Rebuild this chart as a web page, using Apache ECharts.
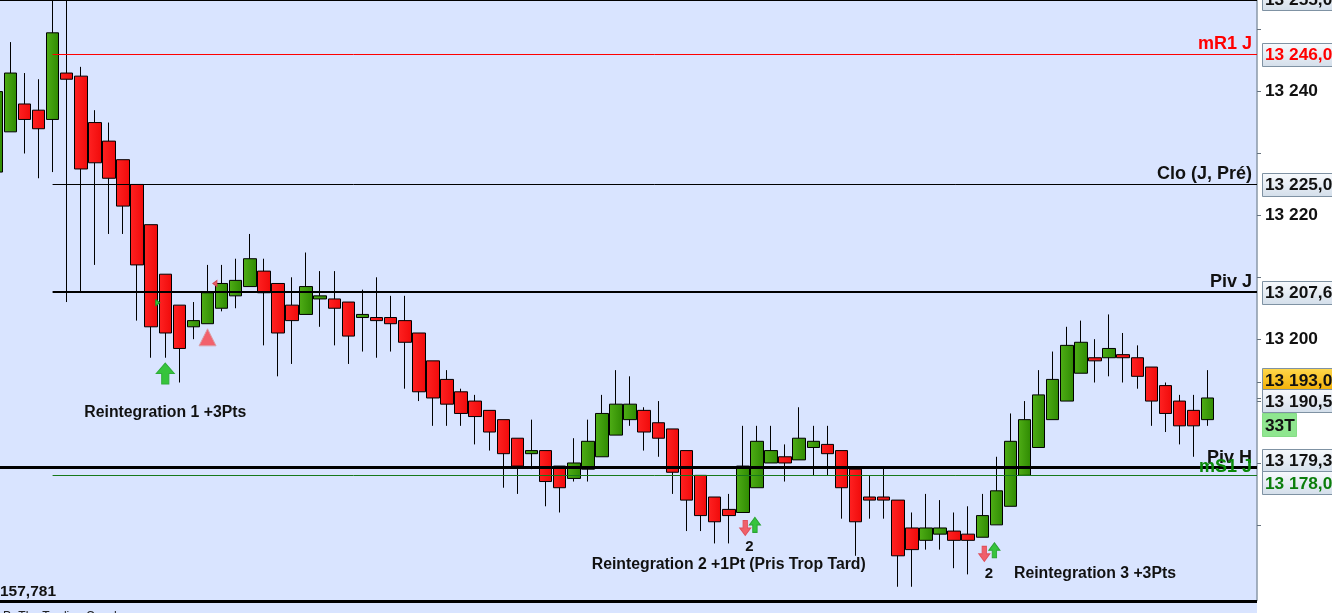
<!DOCTYPE html>
<html><head><meta charset="utf-8">
<script src="https://cdn.jsdelivr.net/npm/echarts@6/dist/echarts.min.js"></script>
<style>html,body{margin:0;padding:0;background:#fff;overflow:hidden}#c{width:1332px;height:613px}</style>
</head><body><div id="c"></div>
<script>
var opens=[13227,13233.5,13238,13237,13235.5,13243,13242.5,13235,13232,13229,
13225,13218.5,13210.5,13205.5,13202,13202.5,13205,13207,13208.5,13211,
13209,13205.5,13204,13206.5,13206.5,13206,13203.5,13203.5,13203.5,13203,
13201,13196.5,13193.5,13191.5,13190,13188.5,13187,13184,13181.5,13182,
13179.5,13177.5,13179,13181,13184.5,13187,13188.5,13186.5,13185.5,13182,
13178,13174.5,13172.5,13172,13176,13180,13181,13180.5,13182.5,13183,
13182,13179,13174.5,13174.5,13174,13169.5,13167.5,13168.5,13169,13168.5,
13168,13170,13173,13178,13182.5,13187,13190,13194.5,13197,13197,
13197.5,13197,13195.5,13192.5,13190,13188.5,13187];
var closes=[13240,13243,13235.5,13234,13249.5,13242,13227.5,13228.5,13226,13221.5,
13212,13202,13201,13198.5,13203,13207.5,13209,13209.5,13213,13207.5,
13201,13203,13208.5,13207,13205,13200.5,13204,13203,13202.5,13199.5,
13191.5,13190.5,13189.5,13188,13187.5,13185,13181.5,13179.5,13182,13177,
13176,13180,13183.5,13188,13189.5,13189.5,13185,13184,13178.5,13174,
13171.5,13170.5,13171.5,13179.5,13183.5,13182,13180,13184,13183.5,13181.5,
13176,13170.5,13174,13174,13165,13166,13169.5,13169.5,13167.5,13167.5,
13171.5,13175.5,13183.5,13187,13191,13193.5,13199,13199.5,13196.5,13198.5,
13197,13194,13190,13188,13186,13186,13190.5];
var lows=[13227,13233.5,13230,13226,13227,13206,13207.5,13212,13217,13217,
13203,13197,13197,13193,13200,13202.5,13204.5,13205,13208.5,13199,
13194,13196,13204,13202,13199,13196,13198,13197,13198,13192,
13190,13186,13186,13186,13183,13182,13176,13175,13179,13173,
13172,13177,13177,13181,13184.5,13186,13182,13181,13175,13169,
13169,13167,13167,13172,13176,13180,13177,13180.5,13178,13178,
13171,13165,13171,13171,13160,13160,13166,13166,13163,13162,
13168,13170,13173,13178,13182.5,13187,13190,13194.5,13193,13194,
13193,13192,13186,13185,13183,13181,13186];
var highs=[13240,13248,13243,13242,13257,13258,13244,13237,13235,13229,
13225,13218.5,13210.5,13205.5,13206,13212,13212,13213,13217,13213,
13209,13210,13214,13211,13211,13206,13208,13210,13207,13207,
13201,13196.5,13195,13192,13191,13188.5,13187,13184,13187,13182,
13179.5,13184,13187,13191,13195,13194,13189,13190,13185.5,13182,
13178,13174.5,13175,13186,13186,13186,13183,13189,13186,13186,
13182,13179,13178,13179.5,13174,13172,13175,13174,13172,13173,
13175,13181,13188,13190,13195,13198,13202,13203,13200,13204,
13201,13199,13195.5,13193,13191,13191,13195];
var barCount=90;
var categories=[];for(var n=0;n<barCount;n++)categories.push(String(n));

var levelValues=[13246,13225,13207.6,13179.3,13178];
var levelNames=['mR1 J','Clo (J, Pré)','Piv J','Piv H','mS1 J'];
var levelStartBars=[4,4,4,0,4];

var boxValues=[13255,13246,13225,13207.6,13193,13190.5,13179.3,13178];
var boxTexts=['13 255,0','13 246,0','13 225,0','13 207,6','13 193,0','13 190,5','13 179,3','13 178,0'];

var axisLabelValues=[13240,13220,13200];
var axisLabelTexts=['13 240','13 220','13 200'];
var axisTickValues=[13250,13240,13230,13220,13210,13200,13193,13190.5,13190,13180,13170];

var bigUpBars=[12];
var bigUpPrices=[13194.45];
var upArrowBars=[54,71];
var upArrowPrices=[13170,13165.9];
var downArrowBars=[53,70];
var downArrowPrices=[13169.5,13165.3];
var triangleBars=[15];
var trianglePrices=[13200.3];
var tinyGreenBars=[11];
var tinyGreenPrices=[13205.9];
var tinyRedBars=[15];
var tinyRedPrices=[13209];

var noteBars=[12,52,78,53,70];
var notePrices=[13188.4,13163.85,13162.4,13166.7,13162.4];
var noteTexts=['Reintegration 1 +3Pts','Reintegration 2 +1Pt (Pris Trop Tard)','Reintegration 3 +3Pts','2','2'];
var lowestText='157,781';
var signalText='33T';
var footerText='Pr The Trading Coach';

var FONT='"Liberation Sans",Arial,sans-serif';
var levelStyle=[{c:'#ff0000',w:1,t:'#ff0000',dy:-10},{c:'#000000',w:1,t:'#111111',dy:-10},{c:'#000000',w:2,t:'#111111',dy:-9.5},{c:'#000000',w:3,t:'#111111',dy:-9.5},{c:'#17791a',w:1,t:'#0b8a0b',dy:-8.5}];
var boxStyle=[{},{t:'#ff0000'},{},{},{gold:1,dy:-3},{dy:3},{dy:-7},{t:'#0b7d0b',dy:7.5}];

function grad(a,b,h){return new echarts.graphic.LinearGradient(0,0,h?1:0,h?0:1,[{offset:0,color:a},{offset:1,color:b}]);}
var candles=opens.map(function(o,i){return [o,closes[i],lows[i],highs[i]];});

function scatterSeries(bars,prices,path,size,fill,stroke,offsets){
  return {type:'scatter',z:6,clip:false,symbol:path,symbolSize:size,silent:true,
    itemStyle:{color:fill,borderColor:stroke,borderWidth:1,opacity:1},
    data:bars.map(function(b,i){return {value:[b,prices[i]],symbolOffset:[offsets[i],0]};})};
}
var UP='path://M50 0L100 50L70 50L70 100L30 100L30 50L0 50Z';
var DOWN='path://M30 0L70 0L70 50L100 50L50 100L0 50L30 50Z';
var TRI='path://M50 0L100 100L0 100Z';
var RIGHT='path://M0 0L100 50L0 100Z';
var LEFT='path://M100 0L0 50L100 100Z';

var chart=echarts.init(document.getElementById('c'),null,{renderer:'canvas'});
chart.setOption({
  animation:false,
  graphic:[
    {type:'rect',z:-1,shape:{x:0,y:600,width:1257,height:13},style:{fill:'#d9e4ff'}},
    {type:'rect',z:20,shape:{x:0,y:0,width:1257,height:1},style:{fill:'#000'}},
    {type:'rect',z:20,shape:{x:0,y:600,width:1257,height:3},style:{fill:'#000'}},
    {type:'text',z:20,x:0,y:591.5,style:{text:lowestText,font:'bold 15.5px '+FONT,fill:'#111',verticalAlign:'middle'}},
    {type:'text',z:20,x:3,y:610.5,style:{text:footerText,font:'12px '+FONT,fill:'#222',verticalAlign:'top'}},
    {type:'rect',z:20,shape:{x:1262.5,y:413.5,width:34,height:23},style:{fill:'#8fe68f',stroke:'#86dc86'}},
    {type:'text',z:21,x:1265,y:426,style:{text:signalText,font:'bold 17.3px '+FONT,fill:'#111',verticalAlign:'middle'}}
  ],
  grid:{left:-10.8,top:0,width:1267.8,height:600.5,show:true,backgroundColor:'#d9e4ff',borderWidth:0,containLabel:false,outerBoundsMode:'none'},
  xAxis:{type:'category',data:categories,boundaryGap:true,axisLine:{show:false},axisTick:{show:false},axisLabel:{show:false},splitLine:{show:false}},
  yAxis:{type:'value',position:'right',min:13157.78,max:13254.8,scale:true,splitLine:{show:false},
    axisLine:{show:true,lineStyle:{color:'#8a99a8',width:1.5}},
    axisTick:{show:true,length:4,inside:false,lineStyle:{color:'#66727e',width:1},customValues:axisTickValues},
    axisLabel:{show:true,margin:8,padding:[2,0,0,0],color:'#111',fontFamily:'"Liberation Sans",Arial,sans-serif',fontWeight:'bold',fontSize:17.3,customValues:axisLabelValues,
      formatter:function(v){return axisLabelTexts[axisLabelValues.indexOf(v)];}}},
  series:[
    {type:'candlestick',z:2,barWidth:13,data:candles,silent:true,
      itemStyle:{color:grad('#4fae16','#2f8a02',true),color0:grad('#ff2222','#f00a0a',true),borderColor:'#000',borderColor0:'#000',borderWidth:1}},
    {type:'custom',z:4,silent:true,clip:true,coordinateSystem:'cartesian2d',
      data:levelValues.map(function(v,i){return [levelStartBars[i],v,i];}),
      renderItem:function(p,api){
        var i=api.value(2),s=levelStyle[i],pt=api.coord([api.value(0),api.value(1)]);
        var y=Math.round(pt[1]-0.5)+(s.w%2?0.5:0);
        var x0=i===3?0:pt[0];
        return {type:'group',children:[
          {type:'line',shape:{x1:x0,y1:y,x2:1257,y2:y},style:{stroke:s.c,lineWidth:s.w}},
          {type:'text',style:{text:levelNames[i],x:1252,y:y+s.dy,align:'right',verticalAlign:'middle',font:'bold 18px '+FONT,fill:s.t}}
        ]};
      }},
    scatterSeries(bigUpBars,bigUpPrices,UP,[18,21],'#36c43c','#2eae38',[0]),
    scatterSeries(upArrowBars,upArrowPrices,UP,[11,15],'#36c43c','#2aa232',[-2,-2]),
    scatterSeries(downArrowBars,downArrowPrices,DOWN,[11,15],'#f0606a','#e0505c',[2.4,2]),
    scatterSeries(triangleBars,trianglePrices,TRI,[17,17],'#f2616c','#d9a0a8',[0]),
    scatterSeries(tinyGreenBars,tinyGreenPrices,RIGHT,[4,6],'#36c43c','#1f9a28',[6.5]),
    scatterSeries(tinyRedBars,tinyRedPrices,LEFT,[4,6],'#f0606a','#d04650',[7.4]),
    {type:'custom',z:7,silent:true,clip:false,coordinateSystem:'cartesian2d',
      data:noteBars.map(function(b,i){return [b,notePrices[i],i];}),
      renderItem:function(p,api){
        var i=api.value(2),pt=api.coord([api.value(0),api.value(1)]),single=noteTexts[i].length===1;
        return {type:'text',style:{text:noteTexts[i],x:pt[0]+(single?6.7:0),y:pt[1]+1.5,align:'center',verticalAlign:'middle',
          font:'bold '+(single?15:15.8)+'px '+FONT,fill:'#111'}};
      }},
    {type:'custom',z:8,silent:true,clip:false,coordinateSystem:'cartesian2d',
      data:boxValues.map(function(v,i){return [0,v,i];}),
      renderItem:function(p,api){
        var i=api.value(2),s=boxStyle[i],y=api.coord([0,api.value(1)])[1]+(s.dy||0);
        return {type:'group',children:[
          {type:'rect',shape:{x:1262.5,y:Math.round(y-11.5)+0.5,width:90,height:23},
           style:{fill:s.gold?grad('#ffd84d','#f2ad00'):grad('#f8fafd','#d3deea'),stroke:'#7f92a3',lineWidth:1}},
          {type:'text',style:{text:boxTexts[i],x:1265,y:Math.round(y)+1.5,verticalAlign:'middle',font:'bold 17.3px '+FONT,fill:s.t||'#111'}}
        ]};
      }}
  ]
});
</script></body></html>
